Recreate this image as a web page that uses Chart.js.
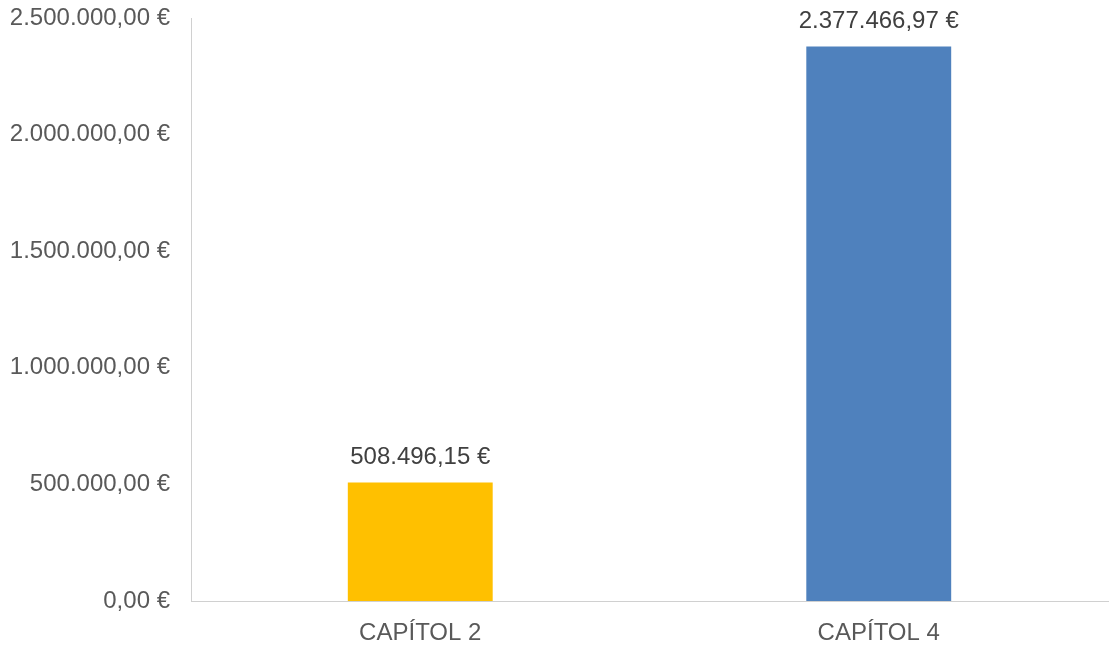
<!DOCTYPE html>
<html>
<head>
<meta charset="utf-8">
<script src="https://cdn.jsdelivr.net/npm/chart.js@4/dist/chart.umd.min.js"></script>
<style>
  html, body { margin: 0; padding: 0; background: #fff; }
  #wrap { width: 1109px; height: 647px; }
</style>
</head>
<body>
<div id="wrap"><canvas id="chart"></canvas></div>
<script>
const categories = ['CAPÍTOL 2', 'CAPÍTOL 4'];
const values = [508496.15, 2377466.97];
const barColors = ['#ffc000', '#4f81bd'];
const yMax = 2500000;
const yStep = 500000;

const FONT = '"Liberation Sans", Arial, sans-serif';

// format 1234567.8 -> "1.234.567,80 €"
function euro(v) {
  const parts = v.toFixed(2).split('.');
  const intPart = parts[0].replace(/\B(?=(\d{3})+(?!\d))/g, '.');
  return intPart + ',' + parts[1] + ' €';
}

const valueLabels = {
  id: 'valueLabels',
  afterDatasetsDraw(chart) {
    const ctx = chart.ctx;
    const meta = chart.getDatasetMeta(0);
    ctx.save();
    ctx.font = '24px ' + FONT;
    ctx.fillStyle = '#404040';
    ctx.textAlign = 'center';
    ctx.textBaseline = 'middle';
    meta.data.forEach((bar, i) => {
      ctx.fillText(euro(values[i]), bar.x, bar.y - 25);
    });
    ctx.restore();
  }
};

new Chart(document.getElementById('chart'), {
  type: 'bar',
  data: {
    labels: categories,
    datasets: [{
      data: values,
      backgroundColor: barColors,
      borderWidth: 0,
      categoryPercentage: 1,
      barPercentage: 0.316
    }]
  },
  options: {
    responsive: true,
    maintainAspectRatio: false,
    animation: false,
    layout: { padding: { top: 18, right: 1, left: 0, bottom: 0 } },
    plugins: { legend: { display: false }, tooltip: { enabled: false } },
    scales: {
      x: {
        grid: { display: false, drawTicks: false },
        border: { color: '#d0d0d0', width: 1 },
        ticks: {
          color: '#595959',
          padding: 18,
          font: { family: FONT, size: 24 }
        },
        afterFit(scale) {
          scale.height = 46;
          scale.paddingLeft = 0;
          scale.paddingRight = 0;
        }
      },
      y: {
        min: 0,
        max: yMax,
        grid: { display: false, drawTicks: false },
        border: { color: '#d0d0d0', width: 1 },
        ticks: {
          stepSize: yStep,
          color: '#595959',
          padding: 21,
          font: { family: FONT, size: 24 },
          callback: v => euro(v)
        },
        afterFit(scale) {
          scale.width = 191;
          scale.paddingTop = 0;
          scale.paddingBottom = 0;
        }
      }
    }
  },
  plugins: [valueLabels]
});
</script>
</body>
</html>
